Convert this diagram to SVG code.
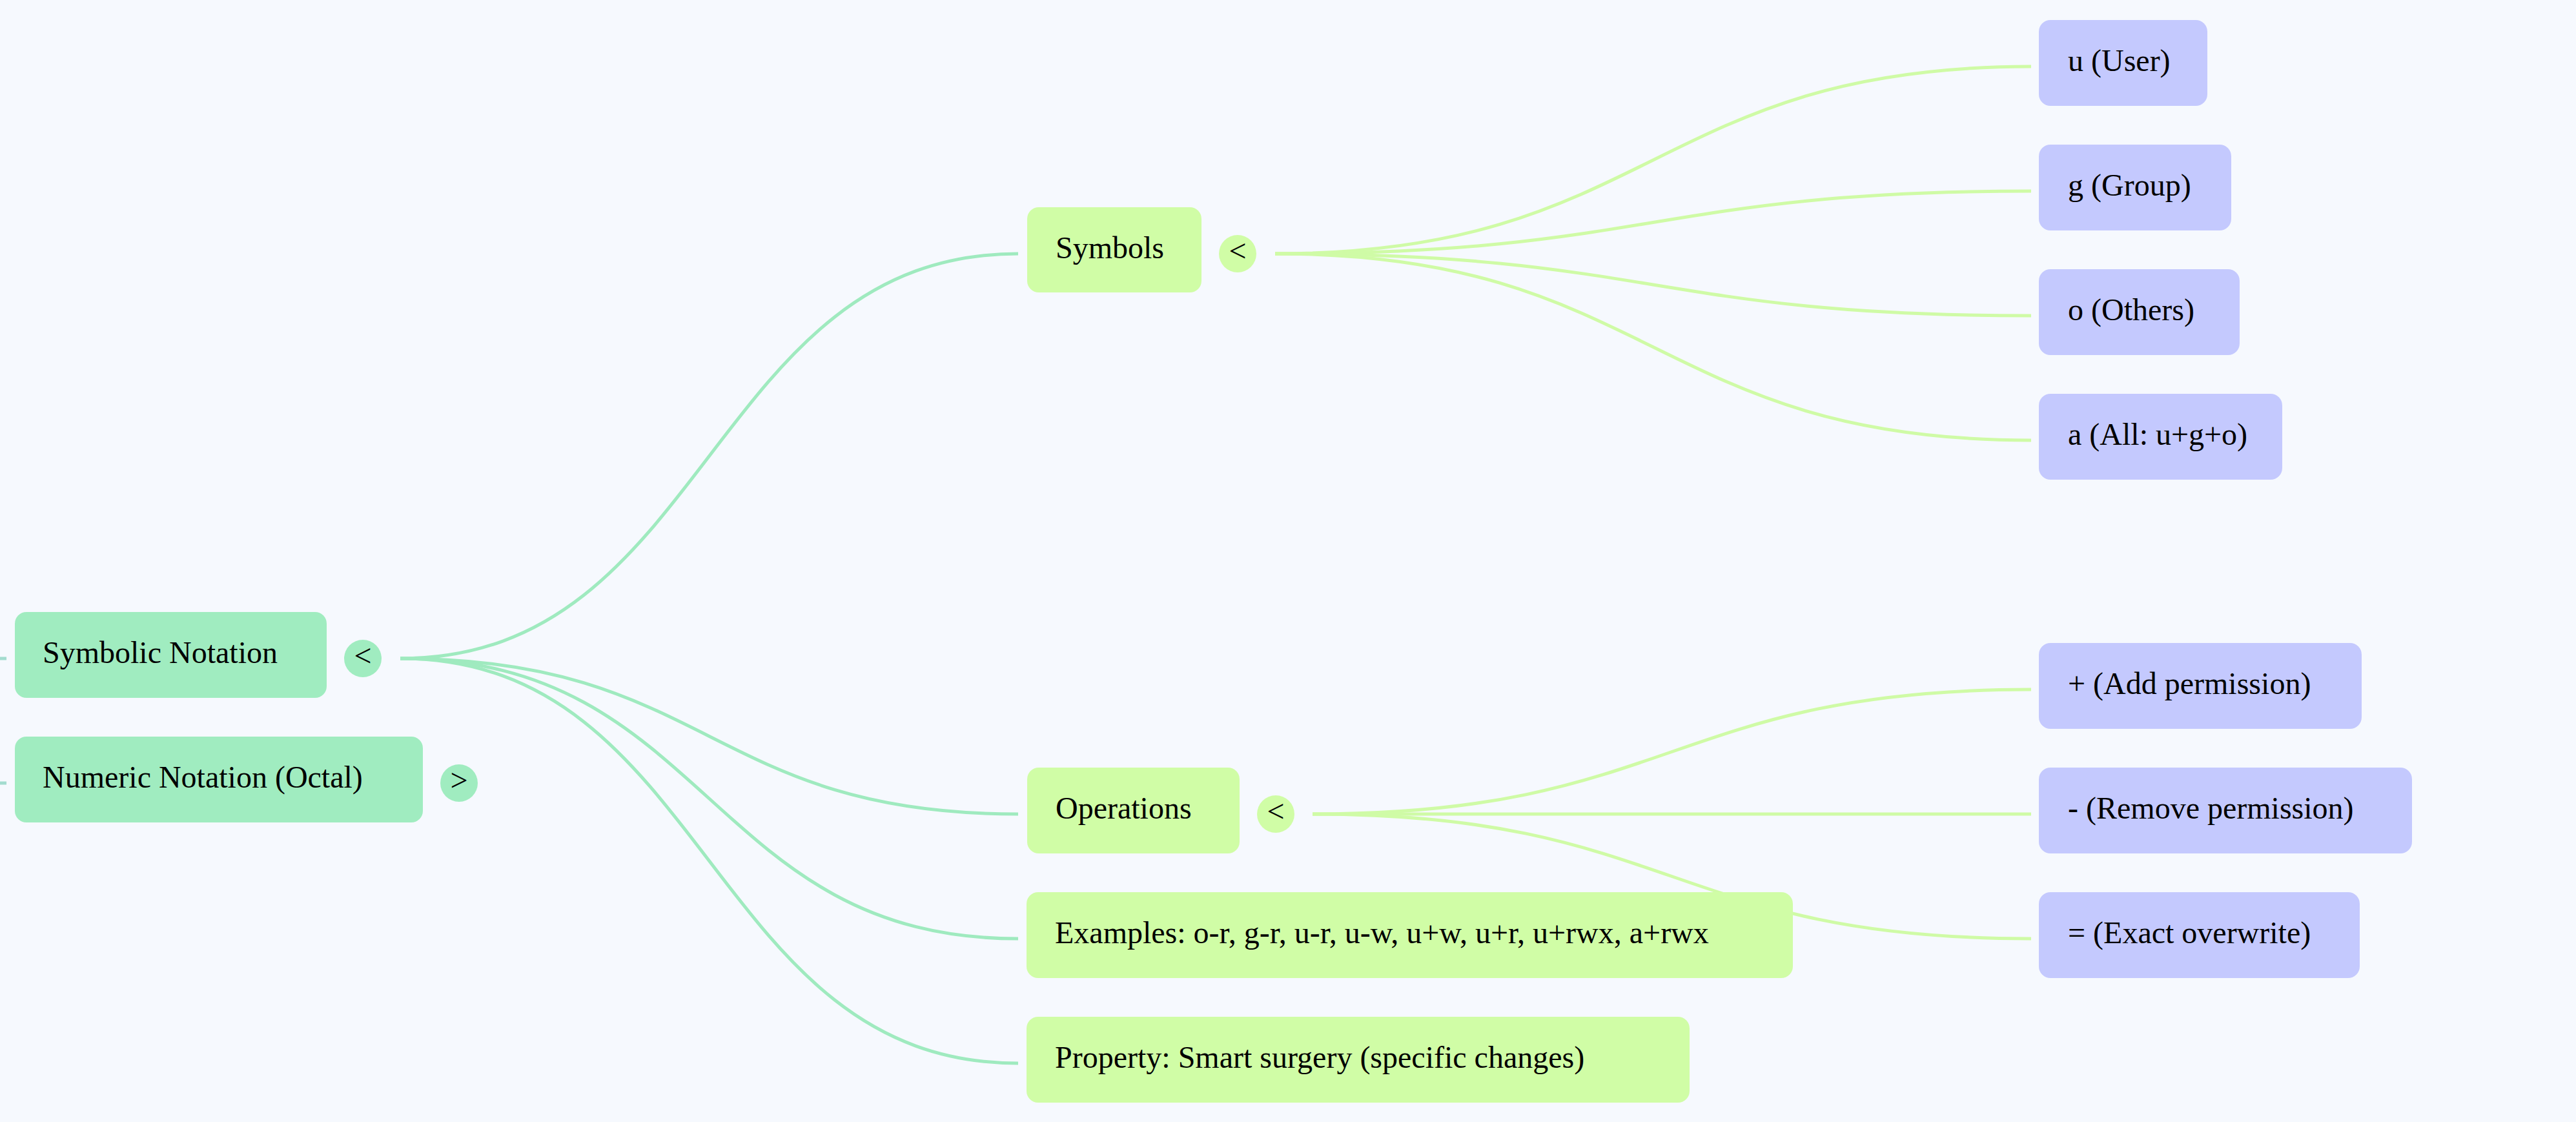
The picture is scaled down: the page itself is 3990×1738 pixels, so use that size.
<svg xmlns="http://www.w3.org/2000/svg" width="3990" height="1738" viewBox="0 0 3990 1738">
<style>
.t{font-family:"Liberation Serif","Times New Roman",serif;font-size:48px;fill:#000}
.c{text-anchor:middle}
.l1{fill:#a0ecc0}
.l2{fill:#d0fda6}
.l3{fill:#c4c9fe}
.e1{fill:none;stroke:#9feabf;stroke-width:5}
.e2{fill:none;stroke:#cffba6;stroke-width:5}
.stub{fill:none;stroke:#a3dccf;stroke-width:5}
</style>
<rect x="0" y="0" width="3990" height="1738" fill="#f6f9fe"/>
<g id="connectors">
<path class="stub" d="M0 1020 H10"/>
<path class="stub" d="M0 1213 H10"/>
<path class="e1" d="M620 1020 C1098.5 1020 1098.5 393 1577 393"/>
<path class="e1" d="M620 1020 C1098.5 1020 1098.5 1261 1577 1261"/>
<path class="e1" d="M620 1020 C1098.5 1020 1098.5 1454 1577 1454"/>
<path class="e1" d="M620 1020 C1098.5 1020 1098.5 1647 1577 1647"/>
<path class="e2" d="M1975 393 C2560.5 393 2560.5 103 3146 103"/>
<path class="e2" d="M1975 393 C2560.5 393 2560.5 296 3146 296"/>
<path class="e2" d="M1975 393 C2560.5 393 2560.5 489 3146 489"/>
<path class="e2" d="M1975 393 C2560.5 393 2560.5 682 3146 682"/>
<path class="e2" d="M2033 1261 C2589.5 1261 2589.5 1068 3146 1068"/>
<path class="e2" d="M2033 1261 C2589.5 1261 2589.5 1261 3146 1261"/>
<path class="e2" d="M2033 1261 C2589.5 1261 2589.5 1454 3146 1454"/>
</g>
<g id="node-symbolic">
<rect class="l1" x="23" y="948" width="483" height="133" rx="18"/>
<text class="t" x="66" y="1027">Symbolic Notation</text>
<circle class="l1" cx="562" cy="1020" r="29"/>
<text class="t c" x="562" y="1032">&lt;</text>
</g>
<g id="node-numeric">
<rect class="l1" x="23" y="1141" width="632" height="133" rx="18"/>
<text class="t" x="66" y="1220">Numeric Notation (Octal)</text>
<circle class="l1" cx="711" cy="1213" r="29"/>
<text class="t c" x="711" y="1225">&gt;</text>
</g>
<g id="node-symbols">
<rect class="l2" x="1591" y="321" width="270" height="132" rx="18"/>
<text class="t" x="1635" y="400">Symbols</text>
<circle class="l2" cx="1917" cy="393" r="29"/>
<text class="t c" x="1917" y="405">&lt;</text>
</g>
<g id="node-operations">
<rect class="l2" x="1591" y="1189" width="329" height="133" rx="18"/>
<text class="t" x="1635" y="1268">Operations</text>
<circle class="l2" cx="1976" cy="1261" r="29"/>
<text class="t c" x="1976" y="1273">&lt;</text>
</g>
<g id="node-examples">
<rect class="l2" x="1590" y="1382" width="1187" height="133" rx="18"/>
<text class="t" x="1634" y="1461">Examples: o-r, g-r, u-r, u-w, u+w, u+r, u+rwx, a+rwx</text>
</g>
<g id="node-property">
<rect class="l2" x="1590" y="1575" width="1027" height="133" rx="18"/>
<text class="t" x="1634" y="1654">Property: Smart surgery (specific changes)</text>
</g>
<g id="node-user">
<rect class="l3" x="3158" y="31" width="261" height="133" rx="18"/>
<text class="t" x="3203" y="110">u (User)</text>
</g>
<g id="node-group">
<rect class="l3" x="3158" y="224" width="298" height="133" rx="18"/>
<text class="t" x="3203" y="303">g (Group)</text>
</g>
<g id="node-others">
<rect class="l3" x="3158" y="417" width="311" height="133" rx="18"/>
<text class="t" x="3203" y="496">o (Others)</text>
</g>
<g id="node-all">
<rect class="l3" x="3158" y="610" width="377" height="133" rx="18"/>
<text class="t" x="3203" y="689">a (All: u+g+o)</text>
</g>
<g id="node-add">
<rect class="l3" x="3158" y="996" width="500" height="133" rx="18"/>
<text class="t" x="3203" y="1075">+ (Add permission)</text>
</g>
<g id="node-remove">
<rect class="l3" x="3158" y="1189" width="578" height="133" rx="18"/>
<text class="t" x="3203" y="1268">- (Remove permission)</text>
</g>
<g id="node-exact">
<rect class="l3" x="3158" y="1382" width="497" height="133" rx="18"/>
<text class="t" x="3203" y="1461">= (Exact overwrite)</text>
</g>
</svg>
